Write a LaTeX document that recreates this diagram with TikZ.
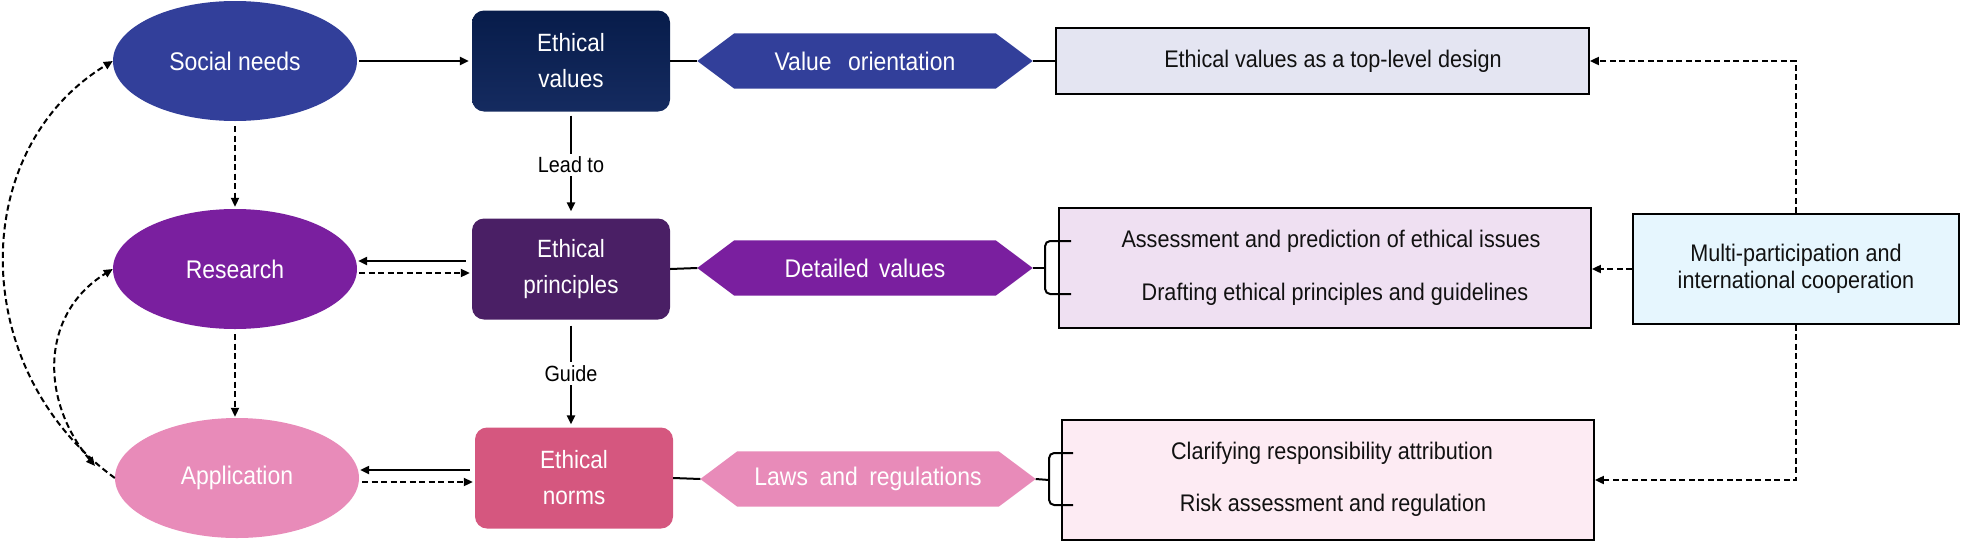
\documentclass[tikz,border=0pt]{standalone}
\usepackage{fontspec}
\setmainfont{Liberation Sans}[FakeStretch=0.9]
\usetikzlibrary{arrows.meta,calc,backgrounds,shapes.geometric}
\definecolor{cblue}{HTML}{323F9A}
\definecolor{cpurple}{HTML}{7A1F9F}
\definecolor{cpink}{HTML}{E88BB9}
\definecolor{cnavyT}{HTML}{071C4A}
\definecolor{cnavyB}{HTML}{152B60}
\definecolor{cdpur}{HTML}{4A1F65}
\definecolor{cnorm}{HTML}{D5577F}
\definecolor{ftop}{HTML}{E4E5F2}
\definecolor{fmid}{HTML}{EFE0F2}
\definecolor{fbot}{HTML}{FDEBF3}
\definecolor{fmp}{HTML}{E6F6FE}
\definecolor{txt}{HTML}{111111}
\tikzset{
  ell/.style={ellipse, minimum width=244pt, minimum height=120pt, inner sep=0pt, text=white, font=\fontsize{25.5}{29}\selectfont},
  ebox/.style={rounded corners=12pt, minimum width=198pt, minimum height=101pt, inner sep=0pt, text=white, align=center, font=\fontsize{25}{36}\selectfont},
  hexnode/.style={minimum width=261pt, minimum height=55pt, inner sep=0pt, text=white, font=\fontsize{25.5}{29}\selectfont},
  rbox/.style={draw=black, line width=1.8pt, inner sep=0pt},
  rtext/.style={text=txt, inner sep=0pt, align=center, font=\fontsize{24}{27}\selectfont},
  lbl/.style={fill=white, text=black, inner sep=3pt, font=\fontsize{22}{25}\selectfont},
  tip/.style={-{Triangle[length=9pt,width=8pt]}},
  solidarrow/.style={tip, line width=2.2pt, black},
  dasharrow/.style={tip, line width=2pt, black, dash pattern=on 6pt off 3.5pt},
  link/.style={line width=2pt, black},
}
\begin{document}
\begin{tikzpicture}[x=1pt,y=-1pt]
\useasboundingbox (0,0) rectangle (1961,541);
% left column ellipses
\node[ell, fill=cblue] (sn) at (235,61) {Social needs};
\node[ell, fill=cpurple] (re) at (235,269) {Research};
\node[ell, fill=cpink] (ap) at (237,478) {Application};
% ethical boxes
\node[ebox, top color=cnavyT, bottom color=cnavyB] (ev) at (571,61) {Ethical\\values};
\node[ebox, fill=cdpur] (ep) at (571,269) {Ethical\\principles};
\node[ebox, fill=cnorm] (en) at (574,478) {Ethical\\norms};
% hexagon labels
\node[hexnode] (vo) at (865,61) {Value\hspace{0.65em}orientation};
\node[hexnode] (dv) at (865,268) {Detailed\hspace{0.4em}values};
\node[hexnode] (lr) at (868,479) {Laws\hspace{0.45em}and\hspace{0.45em}regulations};
\coordinate (vo-l) at ([xshift=-37pt]vo.west);
\coordinate (vo-r) at ([xshift=37pt]vo.east);
\coordinate (dv-l) at ([xshift=-37pt]dv.west);
\coordinate (dv-r) at ([xshift=37pt]dv.east);
\coordinate (lr-l) at ([xshift=-37pt]lr.west);
\coordinate (lr-r) at ([xshift=37pt]lr.east);
\begin{scope}[on background layer]
\fill[cblue] (vo.north west) -- (vo.north east) -- (vo-r) -- (vo.south east) -- (vo.south west) -- (vo-l) -- cycle;
\fill[cpurple] (dv.north west) -- (dv.north east) -- (dv-r) -- (dv.south east) -- (dv.south west) -- (dv-l) -- cycle;
\fill[cpink] (lr.north west) -- (lr.north east) -- (lr-r) -- (lr.south east) -- (lr.south west) -- (lr-l) -- cycle;
\end{scope}
% right boxes
\node[rbox, fill=ftop, minimum width=533pt, minimum height=66pt] (tb) at (1322.5,61) {};
\node[rbox, fill=fmid, minimum width=532pt, minimum height=120pt] (mb) at (1325,268) {};
\node[rbox, fill=fbot, minimum width=532pt, minimum height=120pt] (bb) at (1328,480) {};
\node[rbox, fill=fmp, minimum width=326pt, minimum height=110pt] (mp) at (1796,269) {};
\node[rtext] (tt) at (1333,61) {Ethical values as a top-level design};
\node[rtext] (m1) at (1331,241) {Assessment and prediction of ethical issues};
\node[rtext] (m2) at (1335,294) {Drafting ethical principles and guidelines};
\node[rtext] (b1) at (1332,453) {Clarifying responsibility attribution};
\node[rtext] (b2) at (1333,505) {Risk assessment and regulation};
\node[rtext] (mpt) at (1796,269) {Multi-participation and\\international cooperation};
% main flow arrows
\draw[solidarrow, shorten <=2pt, shorten >=3pt] (sn.east) -- (ev.west);
\draw[solidarrow, shorten <=4pt, shorten >=7pt] (ev.south) -- node[lbl] {Lead to} (ep.north);
\draw[solidarrow, shorten <=6pt, shorten >=3pt] (ep.south) -- node[lbl] {Guide} (ep.south |- en.north);
\draw[dasharrow, shorten <=5pt, shorten >=2pt] (sn.south) -- (re.north);
\draw[dasharrow, shorten <=5pt, shorten >=1pt] (re.south) -- (re.south |- ap.north);
\draw[solidarrow, shorten <=6pt, shorten >=1pt] ([yshift=8pt]ep.west) -- ([yshift=8pt]re.east);
\draw[dasharrow, shorten <=2pt, shorten >=2pt] ([yshift=-4pt]re.east) -- ([yshift=-4pt]ep.west);
\draw[solidarrow, shorten <=5pt, shorten >=1pt] ([yshift=8pt]en.west) -- ([yshift=8pt]ap.east);
\draw[dasharrow, shorten <=3pt, shorten >=2pt] ([yshift=-4pt]ap.east) -- ([yshift=-4pt]en.west);
% left curved feedback arrows
\coordinate (apin) at (95,466);
\draw[dasharrow] (ap.west) .. controls (-33,370) and (-33,150) .. (sn.west);
\draw[dasharrow, {Triangle[length=9pt,width=8pt]}-{Triangle[length=9pt,width=8pt]}] (apin) .. controls (40,400) and (40,314) .. (re.west);
% links to hexagons
\draw[link] (ev.east) -- (vo-l);
\draw[link] (ep.east) -- (dv-l);
\draw[link] (en.east) -- (lr-l);
\draw[link] (vo-r) -- (tb.west);
\draw[link] (dv-r) -- ($(mb.west)+(-13,0)$);
\draw[link] (lr-r) -- ($(bb.west)+(-12,0)$);
% brackets
\draw[link, rounded corners=5pt] ($(mb.west |- m1)+(13,0)$) -- ($(mb.west |- m1)+(-13,0)$) -- ($(mb.west |- m2)+(-13,0)$) -- ($(mb.west |- m2)+(13,0)$);
\draw[link, rounded corners=5pt] ($(bb.west |- b1)+(12,0)$) -- ($(bb.west |- b1)+(-12,0)$) -- ($(bb.west |- b2)+(-12,0)$) -- ($(bb.west |- b2)+(12,0)$);
% multi-participation connectors
\draw[dasharrow] (mp.north) |- (tb.east);
\draw[dasharrow] (mp.west) -- (mp.west -| mb.east);
\draw[dasharrow] (mp.south) |- (bb.east);
\end{tikzpicture}
\end{document}
